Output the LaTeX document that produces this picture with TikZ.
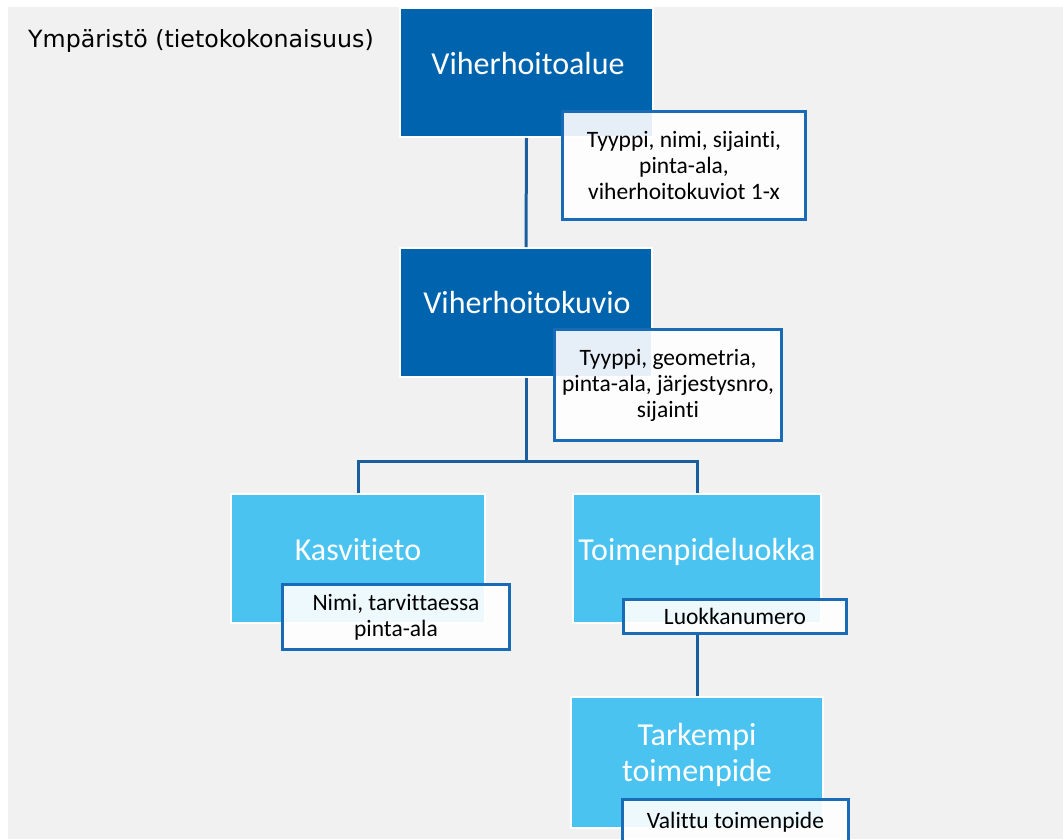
\documentclass[tikz,border=0pt]{standalone}
\usepackage{fontspec}
\setmainfont{Carlito}[Ligatures={NoCommon}]
\newfontfamily\titlefont{DejaVu Sans}
\definecolor{bggray}{HTML}{F1F1F1}
\definecolor{darkfill}{HTML}{0063AE}
\definecolor{lightfill}{HTML}{4BC3F1}
\definecolor{connblue}{HTML}{1B5E9E}
\definecolor{attrblue}{HTML}{1A6BB5}
\begin{document}
\begin{tikzpicture}[x=1pt,y=-1pt,
  mainbox/.style={draw=white, line width=2pt, inner sep=0pt},
  darkbox/.style={mainbox, fill=darkfill},
  lightbox/.style={mainbox, fill=lightfill},
  maintext/.style={text=white, font=\fontsize{32}{36}\selectfont, inner sep=0pt, anchor=base, align=center},
  attrbox/.style={draw=attrblue, line width=3pt, fill=white, fill opacity=0.9, text opacity=1,
    inner sep=0pt, align=center, font=\fontsize{23.5}{26}\selectfont},
  conn/.style={draw=connblue, line width=3pt}]
\useasboundingbox (0,0) rectangle (1063,839);
\fill[bggray] (8,7) rectangle (1063,839);
\node[anchor=base west, inner sep=0pt, font=\titlefont\fontsize{23.7}{28}\selectfont] (title) at (28,47) {Ympäristö (tietokokonaisuus)};

% main boxes
\node[darkbox, minimum width=253, minimum height=129] (va) at (526.5,72.5) {};
\node[darkbox, minimum width=252, minimum height=129] (vk) at (526,312.5) {};
\node[lightbox, minimum width=254, minimum height=129] (kt) at (358,558.5) {};
\node[lightbox, minimum width=248, minimum height=129] (tl) at (697,558.5) {};
\node[lightbox, minimum width=252, minimum height=131] (tt) at (697,762.5) {};

% connectors
\coordinate (branch) at (526,461);
\draw[conn] (va.south) -- (vk.north);
\draw[conn] (vk.south) -- (branch);
\draw[conn] (kt.north) |- (branch) -| (tl.north);

% labels
\node[maintext] (vat) at (528,74) {Viherhoitoalue};
\node[maintext] (vkt) at (527,313) {Viherhoitokuvio};
\node[maintext] (ktt) at (358,560) {Kasvitieto};
\node[maintext] (tlt) at (697,560) {Toimenpideluokka};
\node[maintext] (ttt) at (697,781) {Tarkempi\\toimenpide};

% attribute boxes
\node[attrbox, minimum width=243, minimum height=108] (a1) at (684,165.5) {Tyyppi, nimi, sijainti,\\pinta-ala,\\viherhoitokuviot 1-x};
\node[attrbox, minimum width=227, minimum height=111] (a2) at (668,385) {Tyyppi, geometria,\\pinta-ala, järjestysnro,\\sijainti};
\node[attrbox, minimum width=227, minimum height=65] (a3) at (396,617) {Nimi, tarvittaessa\\pinta-ala};
\node[attrbox, minimum width=223, minimum height=34] (a4) at (735,616.5) {Luokkanumero};
\node[attrbox, minimum width=226, minimum height=46] (a5) at (735.5,822) {Valittu toimenpide};

\draw[conn] (tl.south |- a4.south) -- (tt.north);
\end{tikzpicture}
\end{document}
